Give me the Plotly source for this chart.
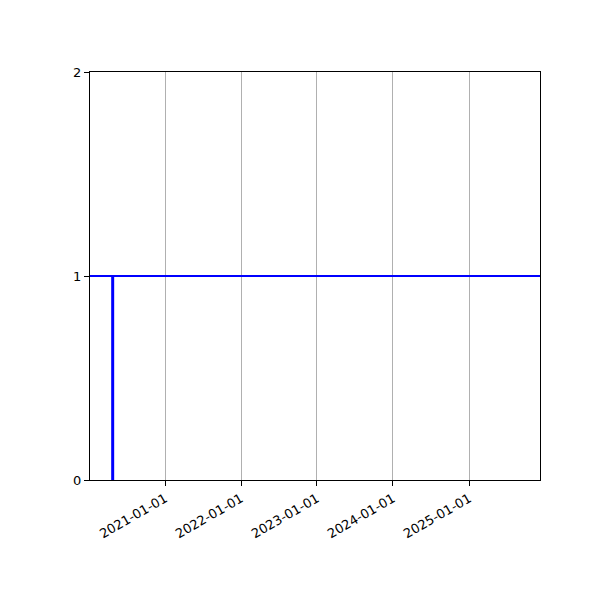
import plotly.graph_objects as go

# x-axis span and tick dates
x_start = "2020-01-06"
x_end = "2025-12-08"
tick_dates = ["2021-01-01", "2022-01-01", "2023-01-01", "2024-01-01", "2025-01-01"]

# vertical step at one date, level line across the whole span
step_dates = ["2020-04-24", "2020-04-24"]
step_values = [0, 1]
level_dates = [x_start, x_end]
level_values = [1, 1]

y_ticks = [0, 1, 2]


def create_chart():
    fig = go.Figure()

    fig.add_trace(go.Scatter(
        x=level_dates,
        y=level_values,
        mode="lines",
        line=dict(color="#0000ff", width=2),
        showlegend=False,
    ))
    fig.add_trace(go.Scatter(
        x=step_dates,
        y=step_values,
        mode="lines",
        line=dict(color="#0000ff", width=3),
        showlegend=False,
    ))

    fig.update_layout(
        width=600,
        height=600,
        plot_bgcolor="white",
        paper_bgcolor="white",
        font=dict(family="DejaVu Sans", size=13, color="black"),
        # page body has an 8px margin, so shift the plot box up/left
        margin=dict(l=82, r=68, t=64, b=128),
        xaxis=dict(
            type="date",
            range=[x_start, x_end],
            tickvals=tick_dates,
            tickformat="%Y-%m-%d",
            tickangle=-30,
            ticks="outside",
            ticklen=5,
            tickcolor="black",
            showgrid=True,
            gridcolor="#b0b0b0",
            gridwidth=1,
            showline=True,
            linecolor="black",
            linewidth=1.3,
            mirror=True,
            zeroline=False,
        ),
        yaxis=dict(
            range=[0, 2],
            tickvals=y_ticks,
            ticks="outside",
            ticklen=5,
            tickcolor="black",
            showgrid=False,
            showline=True,
            linecolor="black",
            linewidth=1.3,
            mirror=True,
            zeroline=False,
        ),
    )
    return fig


fig = create_chart()
fig.write_html("out.html")
